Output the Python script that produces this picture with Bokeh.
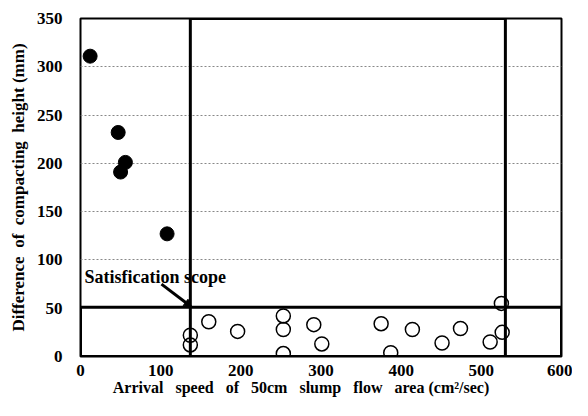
from bokeh.plotting import figure
from bokeh.models import Range1d, FixedTicker, Label, Arrow, NormalHead
from bokeh.embed import file_html
from bokeh.resources import INLINE

# Filled points (outside scope)
out_x = [12, 47, 50, 56, 108]
out_y = [311, 232, 191, 201, 127]

# Open points (within scope)
in_x = [137, 137, 160, 196, 253, 253, 253, 291, 301, 375, 387, 414, 451, 474, 511, 526, 525]
in_y = [22, 12, 36, 26, 42, 28, 3, 33, 13, 34, 4, 28, 14, 29, 15, 25, 55]

# Satisfication scope boxes
box_left = [137, 0]
box_right = [530, 600]
box_bottom = [0, 0]
box_top = [350, 51]

x_ticks = [0, 100, 200, 300, 400, 500, 600]
y_ticks = [0, 50, 100, 150, 200, 250, 300, 350]

# arrow (data coordinates)
arrow_start = (101, 75)
arrow_end = (139, 51)

FONT = "Liberation Serif"
NB = "\u00a0"

p = figure(width=572, height=400, output_backend="svg", toolbar_location=None,
           x_range=Range1d(0, 600), y_range=Range1d(0, 350),
           min_border_left=80, min_border_right=11, min_border_top=18, min_border_bottom=44)

p.outline_line_color = "black"
p.outline_line_width = 2

p.xgrid.visible = False
p.ygrid.ticker = FixedTicker(ticks=[100, 150, 200, 250, 300])
p.ygrid.grid_line_color = "#888888"
p.ygrid.grid_line_dash = "2 2"
p.ygrid.grid_line_width = 1

for ax, ticks in ((p.xaxis, x_ticks), (p.yaxis, y_ticks)):
    ax.ticker = FixedTicker(ticks=ticks)
    ax.axis_line_color = None
    ax.major_tick_line_color = None
    ax.minor_tick_line_color = None
    ax.major_tick_out = 0
    ax.major_tick_in = 0
    ax.minor_tick_out = 0
    ax.major_label_text_font = FONT
    ax.major_label_text_font_style = "bold"
    ax.major_label_text_font_size = "17px"
    ax.major_label_text_color = "black"
    ax.axis_label_text_font = FONT
    ax.axis_label_text_font_style = "bold"
    ax.axis_label_text_font_size = "17px"
    ax.axis_label_text_color = "black"

p.xaxis.axis_label_text_font_size = "16px"
p.xaxis.major_label_standoff = 8
p.yaxis.major_label_standoff = 18
sp = NB * 3
p.xaxis.axis_label = ("Arrival" + sp + "speed" + sp + "of" + sp + "50cm" + sp +
                      "slump" + sp + "flow" + sp + "area" + NB + "(cm²/sec)" + NB * 10)
p.yaxis.axis_label = "Difference" + NB + " of" + NB + " compacting" + NB + " height (mm)"
p.xaxis.axis_label_standoff = 0
p.yaxis.axis_label_standoff = 6

p.quad(left=box_left, right=box_right, bottom=box_bottom, top=box_top,
       fill_alpha=0, line_color="black", line_width=3)

p.scatter(out_x, out_y, size=14, color="black")
p.scatter(in_x, in_y, size=14, fill_color=None, line_color="black", line_width=1.5)

p.add_layout(Arrow(end=NormalHead(size=8, fill_color="black", line_color="black"),
                   x_start=arrow_start[0], y_start=arrow_start[1],
                   x_end=arrow_end[0], y_end=arrow_end[1],
                   line_width=3, line_color="black"))

p.add_layout(Label(x=5, y=72, text="Satisfication scope", text_font=FONT,
                   text_font_style="bold", text_font_size="18px", text_color="black"))

open("out.html", "w").write(file_html(p, INLINE))
